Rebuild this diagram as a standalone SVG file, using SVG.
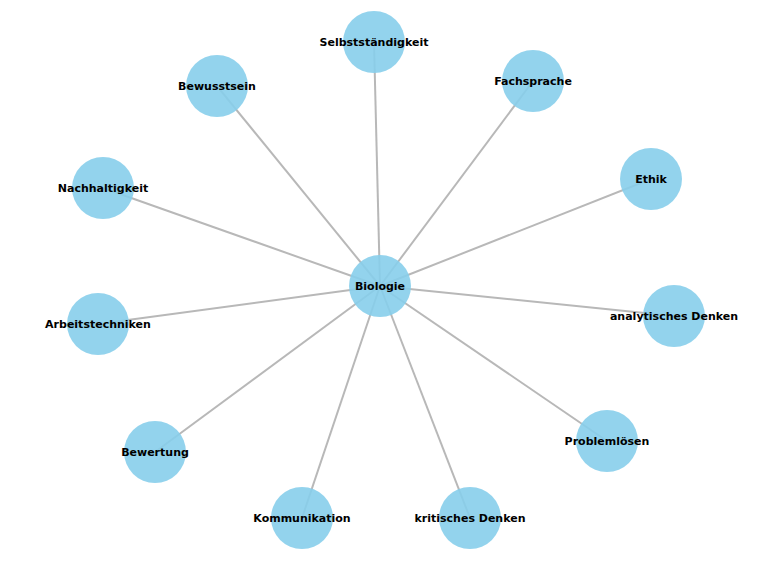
<svg xmlns="http://www.w3.org/2000/svg" width="763" height="567" viewBox="0 0 763 567">
<style>
.n circle{fill:#87CEEB;fill-opacity:0.9;}
.n text{font-family:"DejaVu Sans",sans-serif;font-size:11px;font-weight:bold;text-anchor:middle;dominant-baseline:central;fill:#000;}
#edges line{stroke:#b8b8b8;stroke-width:2;}
</style>
<rect width="763" height="567" fill="#fff"/>
<g id="edges">
<line x1="380" y1="286" x2="374" y2="42"/>
<line x1="380" y1="286" x2="533" y2="81"/>
<line x1="380" y1="286" x2="651" y2="179"/>
<line x1="380" y1="286" x2="674" y2="316"/>
<line x1="380" y1="286" x2="607" y2="441"/>
<line x1="380" y1="286" x2="470" y2="518"/>
<line x1="380" y1="286" x2="302" y2="518"/>
<line x1="380" y1="286" x2="155" y2="452"/>
<line x1="380" y1="286" x2="98" y2="324"/>
<line x1="380" y1="286" x2="103" y2="188"/>
<line x1="380" y1="286" x2="217" y2="86"/>
</g>
<g id="n-biologie" class="n"><circle cx="380" cy="286" r="31"/><text x="380" y="286">Biologie</text></g>
<g id="n-selbst" class="n"><circle cx="374" cy="42" r="31"/><text x="374" y="42">Selbstständigkeit</text></g>
<g id="n-fach" class="n"><circle cx="533" cy="81" r="31"/><text x="533" y="81">Fachsprache</text></g>
<g id="n-ethik" class="n"><circle cx="651" cy="179" r="31"/><text x="651" y="179">Ethik</text></g>
<g id="n-analyt" class="n"><circle cx="674" cy="316" r="31"/><text x="674" y="316">analytisches Denken</text></g>
<g id="n-problem" class="n"><circle cx="607" cy="441" r="31"/><text x="607" y="441">Problemlösen</text></g>
<g id="n-krit" class="n"><circle cx="470" cy="518" r="31"/><text x="470" y="518">kritisches Denken</text></g>
<g id="n-komm" class="n"><circle cx="302" cy="518" r="31"/><text x="302" y="518">Kommunikation</text></g>
<g id="n-bew" class="n"><circle cx="155" cy="452" r="31"/><text x="155" y="452">Bewertung</text></g>
<g id="n-arbeit" class="n"><circle cx="98" cy="324" r="31"/><text x="98" y="324">Arbeitstechniken</text></g>
<g id="n-nach" class="n"><circle cx="103" cy="188" r="31"/><text x="103" y="188">Nachhaltigkeit</text></g>
<g id="n-bewusst" class="n"><circle cx="217" cy="86" r="31"/><text x="217" y="86">Bewusstsein</text></g>
</svg>
